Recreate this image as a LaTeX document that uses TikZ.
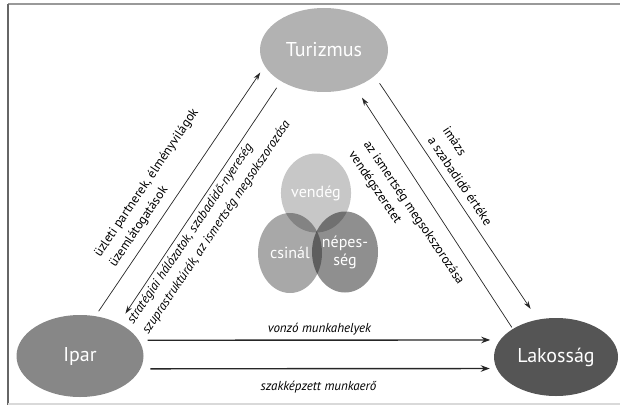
\documentclass[tikz,border=0pt]{standalone}
\usepackage{fontspec}
\setmainfont{PT Sans}
\usetikzlibrary{positioning,arrows.meta,shapes.geometric}
\definecolor{turgray}{RGB}{178,178,178}
\definecolor{ipargray}{RGB}{135,135,135}
\definecolor{lakgray}{RGB}{85,85,85}

\begin{document}
\begin{tikzpicture}[x=1pt, y=-1pt,
                    bigoval/.style={ellipse, fill=#1, text=white, inner sep=0pt, outer sep=0pt, font=\fontsize{20}{24}\selectfont},
                    vennoval/.style={ellipse, fill=black, text=white, text opacity=1, inner sep=0pt, outer sep=0pt, align=center, font=\fontsize{16}{18}\selectfont},
                    thinarrow/.style={draw=black!85, line width=0.7pt, -{Stealth[length=8pt, width=5pt]}},
                    thickarrow/.style={draw=black!85, line width=1.4pt, -{Stealth[length=9pt, width=6.5pt]}},
                    flowlabel/.style={align=left, inner sep=0pt, font=\fontsize{13}{18}\selectfont}
                ]
                    \useasboundingbox (0,0) rectangle (620,409);
                    \draw[line width=1.5pt, black!40] (8,4) -- (620,4);
                    \draw[line width=1.5pt, black!60] (8,4) -- (8,405);
                    \draw[line width=1.2pt, black!15] (8,404) -- (620,404);

                    \node[bigoval=turgray, minimum width=128pt, minimum height=84pt] (turizmus) at (324,50) {Turizmus};
                    \node[bigoval=ipargray, minimum width=127pt, minimum height=82pt] (ipar) at (80,356) {Ipar};
                    \node[bigoval=lakgray, minimum width=124pt, minimum height=78pt] (lakossag) at (556,357) {Lakosság};

                    \node[vennoval, fill opacity=.22, minimum width=67pt, minimum height=79pt] (vendeg) at (316,193) {vendég};
                    \node[vennoval, fill opacity=.34, minimum width=64pt, minimum height=80pt] (csinal) at (290,253) {csinál};
                    \node[vennoval, fill opacity=.44, minimum width=66pt, minimum height=81pt] (nepesseg) at (345,252) {népes-\\ség};

                    \draw[thinarrow, shorten <=6pt, shorten >=8pt] (ipar.69) -- (turizmus.195);
                    \draw[thinarrow, shorten <=8pt, shorten >=12pt] (turizmus.216) -- (ipar.40);
                    \draw[thinarrow, shorten <=9pt, shorten >=13pt] (turizmus.333) -- (lakossag.116);
                    \draw[thinarrow, shorten <=2pt, shorten >=13pt] (lakossag.147) -- (turizmus.310);
                    \draw[thickarrow, shorten <=9pt, shorten >=10pt] (ipar.15) -- (lakossag.163)
                        node[midway, above=4pt, flowlabel, font=\fontsize{13}{18}\selectfont\itshape] (vonzo) {vonzó munkahelyek};
                    \draw[thickarrow, shorten <=10pt, shorten >=7pt] (ipar.348) -- (lakossag.191)
                        node[midway, below=12pt, flowlabel, font=\fontsize{13}{18}\selectfont\itshape] (szakkepzett) {szakképzett munkaerő};

                    \node[flowlabel, rotate=56, anchor=west] (uzleti) at (105,261) {üzleti partnerek, élményvilágok\\üzemlátogatások};
                    \node[flowlabel, rotate=56, anchor=west, font=\fontsize{13}{18}\selectfont\itshape] (strategiai) at (138,328) {stratégiai hálózatok, szabadidő-nyereség\\szuprastruktúrák, az ismertség megsokszorozása};
                    \node[flowlabel, rotate=-56, anchor=west] (imazs) at (438.5,132.5) {imázs\\a szabadidő értéke};
                    \node[flowlabel, rotate=-56, anchor=west] (ismertseg) at (358.5,147.5) {az ismertség megsokszorozása\\vendégszeretet};
                \end{tikzpicture}
\end{document}
